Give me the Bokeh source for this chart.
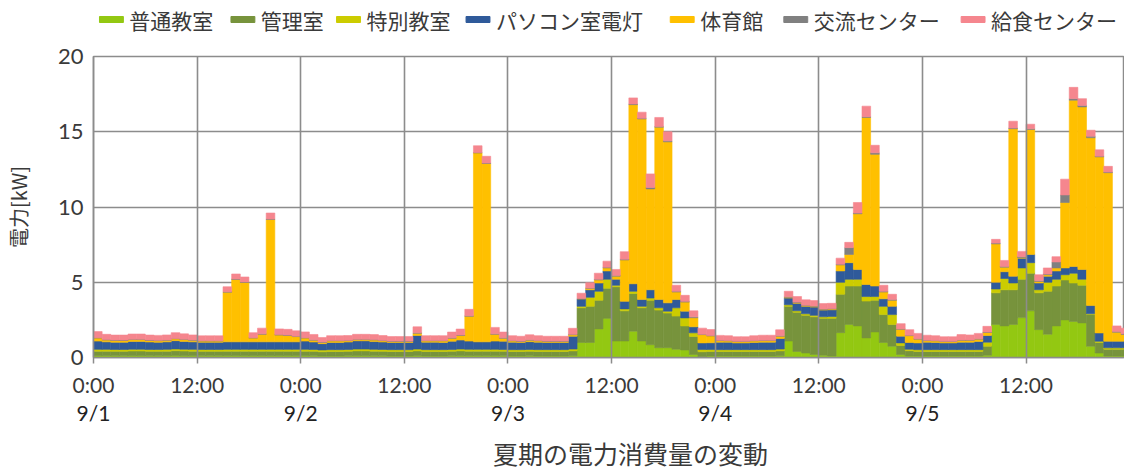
from bokeh.plotting import figure
from bokeh.models import ColumnDataSource, Range1d, FixedTicker, LinearAxis
from bokeh.layouts import column
from bokeh.embed import file_html
from bokeh.resources import INLINE
from bokeh.core.properties import value

# ---------------- data (hourly, 9/1 0:00 .. 9/5 23:00) ----------------
series_names = ["普通教室", "管理室", "特別教室", "パソコン室電灯", "体育館", "交流センター", "給食センター"]
series_colors = ["#93C812", "#77933C", "#CCCC00", "#2F5A9A", "#FFC000", "#808080", "#F5868E"]

futsu = [
    .12, .12, .11, .11, .12, .12, .11, .11, .12, .13, .12, .12, .11, .11, .11, .12, .12, .12, .12, .12, .12, .12, .12, .12,
    .12, .11, .10, .10, .10, .11, .12, .12, .11, .11, .10, .10, .10, .12, .10, .10, .10, .11, .12, .12, .12, .12, .12, .11,
    .10, .10, .11, .10, .10, .10, .10, .12, 1.0, 1.0, 1.9, 2.6, 1.1, 1.1, 1.75, 1.1, .85, .65, .65, .55, .50, .20, .05, .10,
    .10, .10, .10, .10, .10, .10, .10, .12, 1.1, .40, .30, .20, .15, .10, 1.65, 2.2, 2.1, 1.3, 1.7, 1.0, .75, .20, .10, .10,
    .10, .10, .10, .10, .10, .10, .10, .15, 2.2, 2.1, 2.2, 2.65, 3.1, 1.85, 1.55, 2.1, 2.5, 2.4, 2.3, .75, .30, .10, .10, .10,
]
kanri = [
    .30, .30, .30, .30, .31, .31, .30, .30, .30, .32, .31, .30, .30, .30, .30, .30, .30, .30, .30, .30, .30, .30, .30, .30,
    .30, .30, .28, .30, .30, .30, .32, .32, .31, .30, .30, .30, .30, .32, .30, .30, .30, .30, .32, .30, .30, .30, .30, .30,
    .30, .30, .30, .30, .30, .30, .30, .32, 2.3, 2.4, 1.9, 2.0, 3.6, 2.0, 2.5, 2.2, 2.95, 2.5, 2.3, 2.2, 1.6, 1.2, .33, .30,
    .30, .30, .30, .30, .30, .30, .30, .32, 2.3, 2.6, 2.5, 2.5, 2.45, 2.5, 2.55, 2.55, 2.65, 2.45, 2.1, 1.85, 1.45, .60, .35, .30,
    .30, .30, .30, .30, .30, .30, .30, .60, 2.1, 2.4, 2.3, 2.55, 2.5, 2.45, 2.85, 2.65, 2.65, 2.55, 2.5, 2.1, .70, .45, .45, .45,
]
tokubetsu = [
    .12, .12, .12, .12, .12, .12, .12, .12, .12, .12, .12, .12, .12, .12, .12, .12, .12, .12, .12, .12, .12, .12, .12, .12,
    .12, .12, .12, .12, .12, .12, .12, .12, .12, .12, .12, .12, .12, .12, .12, .12, .12, .12, .12, .12, .12, .12, .12, .12,
    .12, .12, .12, .12, .12, .12, .12, .12, .10, .60, .60, .60, .10, .13, .15, .10, .15, .15, .13, .55, .53, .24, .15, .13,
    .12, .12, .12, .12, .12, .12, .12, .12, .10, .10, .10, .10, .10, .12, .80, .45, .45, .30, .25, .55, .65, .17, .10, .12,
    .12, .12, .12, .12, .12, .12, .12, .27, .25, .75, .45, .75, .70, .20, .60, .45, .35, .65, .40, .05, .08, .09, .09, .09,
]
pc_light = [
    .55, .50, .48, .48, .52, .52, .50, .48, .50, .55, .52, .50, .48, .48, .48, .50, .50, .50, .50, .50, .50, .50, .50, .50,
    .55, .50, .42, .48, .48, .50, .55, .55, .52, .50, .48, .48, .48, .90, .50, .50, .48, .55, .60, .55, .50, .50, .55, .55,
    .50, .48, .52, .50, .48, .48, .48, .85, .50, .50, .55, .55, .40, .50, .50, .45, .55, .55, .55, .55, .45, .40, .44, .45,
    .50, .50, .45, .45, .48, .50, .50, .70, .45, .50, .50, .55, .45, .45, .75, 1.1, .65, .80, .70, .50, .55, .45, .45, .45,
    .50, .48, .45, .45, .50, .50, .55, .44, .45, .45, .45, .65, .55, .45, .40, .55, .45, .45, .65, .55, .55, .44, .44, .44,
]
gym = [
    .20, .12, .12, .12, .12, .12, .10, .10, .10, .12, .12, .10, .08, .08, .08, 3.3, 4.15, 3.95, .25, .50, 8.13, .45, .42, .35,
    .20, .12, .08, .10, .10, .08, .08, .08, .10, .08, .06, .06, .06, .15, .08, .08, .10, .20, .30, 1.65, 12.55, 11.85, .45, .20,
    .08, .06, .10, .08, .06, .06, .06, .10, 0.0, .10, .20, .20, .20, 2.75, 11.9, 12.0, 6.7, 11.45, 10.7, .50, .60, .60, .55, .45,
    .10, .08, .08, .08, .10, .10, .10, .15, .05, .05, .05, .05, .05, .05, .40, .55, 3.7, 11.1, 8.75, .45, .40, .45, .45, .25,
    .10, .10, .08, .08, .12, .12, .15, .20, 2.55, .30, 9.8, .05, 8.3, .10, .10, .20, 4.35, 11.05, 10.8, 11.15, 11.7, 11.2, .60, .45,
]
koryu = [
    .03, .03, .03, .03, .03, .03, .03, .03, .03, .03, .03, .03, .03, .03, .03, .03, .03, .03, .03, .03, .03, .03, .03, .03,
    .03, .03, .03, .03, .03, .03, .03, .03, .03, .03, .03, .03, .03, .03, .03, .03, .03, .03, .03, .03, .03, .03, .03, .03,
    .03, .03, .03, .03, .03, .03, .03, .03, .02, .02, .05, .05, .05, .05, .05, .05, .10, .05, .07, .05, .05, .06, .03, .03,
    .03, .03, .03, .03, .03, .03, .03, .03, .03, .03, .03, .03, .03, .03, .05, .45, .05, .05, .10, .05, .05, .03, .03, .03,
    .03, .03, .03, .03, .03, .03, .03, .03, .05, .05, .05, .05, .05, .05, .05, .40, .50, .10, .10, .10, .05, .04, .04, .04,
]
kyushoku = [
    .40, .35, .33, .33, .34, .34, .33, .33, .33, .38, .35, .33, .32, .32, .32, .33, .33, .33, .33, .38, .40, .38, .38, .35,
    .38, .35, .30, .32, .32, .32, .32, .32, .33, .32, .30, .30, .30, .40, .32, .32, .32, .38, .40, .43, .45, .45, .43, .38,
    .32, .32, .33, .32, .32, .32, .32, .40, .35, .35, .40, .40, .40, .50, .40, .40, .90, .60, .60, .40, .40, .40, .40, .40,
    .32, .32, .30, .30, .32, .33, .33, .40, .37, .37, .35, .35, .35, .35, .40, .35, .70, .70, .50, .40, .35, .35, .37, .35,
    .33, .32, .30, .30, .35, .33, .35, .38, .25, .40, .45, .35, .30, .40, .40, .35, 1.05, .75, .45, .40, .42, .38, .38, .38,
]

time_ticks = [0, 12, 24, 36, 48, 60, 72, 84, 96, 108]
time_labels = ["0:00", "12:00", "0:00", "12:00", "0:00", "12:00", "0:00", "12:00", "0:00", "12:00"]
date_ticks = [0, 24, 48, 72, 96]
date_labels = ["9/1", "9/2", "9/3", "9/4", "9/5"]
y_ticks = [0, 5, 10, 15, 20]
chart_title = "夏期の電力消費量の変動"
y_title = "電力[kW]"

# ---------------- build ----------------
keys = ["futsu", "kanri", "tokubetsu", "pc_light", "gym", "koryu", "kyushoku"]
arrays = [futsu, kanri, tokubetsu, pc_light, gym, koryu, kyushoku]
n = len(futsu)
data = {"x": [h + 0.5 for h in range(n)]}
for k, a in zip(keys, arrays):
    data[k] = a
src = ColumnDataSource(data)

JPF = "Noto Sans CJK JP"
LATF = "Lato"
GRID = "#8C8C8C"
TXT = "#3A3A3A"

W = 1124
LEFT = 89          # left border of every strip (frames are aligned in the column)
LEG_H = 36
TOP = 20
FRAME_H = 301
BOTTOM = 74
TITLE_H = 40


def strip(height):
    f = figure(width=W, height=height, x_range=Range1d(LEFT, W), y_range=Range1d(0, height),
               output_backend="svg", toolbar_location=None, min_border=0,
               min_border_left=LEFT, min_border_right=0,
               x_axis_location=None, y_axis_location=None)
    f.grid.visible = False
    f.outline_line_color = None
    return f


# legend strip (coordinates are pixels inside the strip)
leg = strip(LEG_H)
sw_left = [95, 227, 333, 463, 668, 782, 960]
leg.rect(x=[s + 12 for s in sw_left], y=17, width=24, height=6, color=series_colors)
leg.text(x=[s + 30 for s in sw_left], y=17, text=series_names, text_font=value(JPF),
         text_font_size="21px", text_baseline="middle", text_align="left", text_color=TXT)

# main chart
p = figure(width=W, height=TOP + FRAME_H + BOTTOM, x_range=Range1d(0, 119.4), y_range=Range1d(0, 20),
           output_backend="svg", toolbar_location=None,
           min_border_left=LEFT, min_border_right=0, min_border_top=TOP, min_border_bottom=BOTTOM)
p.vbar_stack(keys, x="x", width=1.0, color=series_colors, line_width=0.6, source=src)

p.outline_line_color = GRID
p.outline_line_width = 1.5

p.ygrid.ticker = FixedTicker(ticks=y_ticks)
p.xgrid.ticker = FixedTicker(ticks=time_ticks)
for g in (p.xgrid, p.ygrid):
    g.grid_line_color = GRID
    g.grid_line_width = 1.6
p.xgrid.level = "overlay"

# y axis
ya = p.yaxis[0]
ya.ticker = FixedTicker(ticks=y_ticks)
ya.axis_line_color = GRID
ya.axis_line_width = 1.6
ya.major_tick_line_color = None
ya.major_tick_out = 0
ya.major_tick_in = 0
ya.minor_tick_line_color = None
ya.major_label_standoff = 10
ya.major_label_text_font = LATF
ya.major_label_text_font_size = "22px"
ya.major_label_text_color = TXT
ya.axis_label = y_title
ya.axis_label_text_font = JPF
ya.axis_label_text_font_size = "20px"
ya.axis_label_text_font_style = "normal"
ya.axis_label_text_color = TXT
ya.axis_label_standoff = 22

# x axis (times)
xa = p.xaxis[0]
xa.ticker = FixedTicker(ticks=time_ticks)
xa.major_label_overrides = {t: l for t, l in zip(time_ticks, time_labels)}
xa.axis_line_color = GRID
xa.axis_line_width = 1.6
xa.major_tick_line_color = GRID
xa.major_tick_line_width = 1.5
xa.major_tick_out = 6
xa.major_tick_in = 0
xa.minor_tick_line_color = None
xa.major_label_standoff = 8
xa.major_label_text_font = LATF
xa.major_label_text_font_size = "21px"
xa.major_label_text_color = TXT

# x axis (dates)
da = LinearAxis(ticker=FixedTicker(ticks=date_ticks),
                major_label_overrides={t: l for t, l in zip(date_ticks, date_labels)})
da.axis_line_color = None
da.major_tick_line_color = None
da.minor_tick_line_color = None
da.major_tick_out = 0
da.major_tick_in = 0
da.major_label_standoff = 0
da.major_label_text_font = LATF
da.major_label_text_font_size = "21px"
da.major_label_text_color = "#222222"
p.add_layout(da, "below")

# title strip
ttl = strip(TITLE_H)
ttl.text(x=[628], y=[19], text=[chart_title], text_font=value(JPF), text_font_size="25px",
         text_baseline="middle", text_align="center", text_color=TXT)

layout = column(leg, p, ttl, spacing=0)
open("out.html", "w").write(file_html(layout, INLINE))
